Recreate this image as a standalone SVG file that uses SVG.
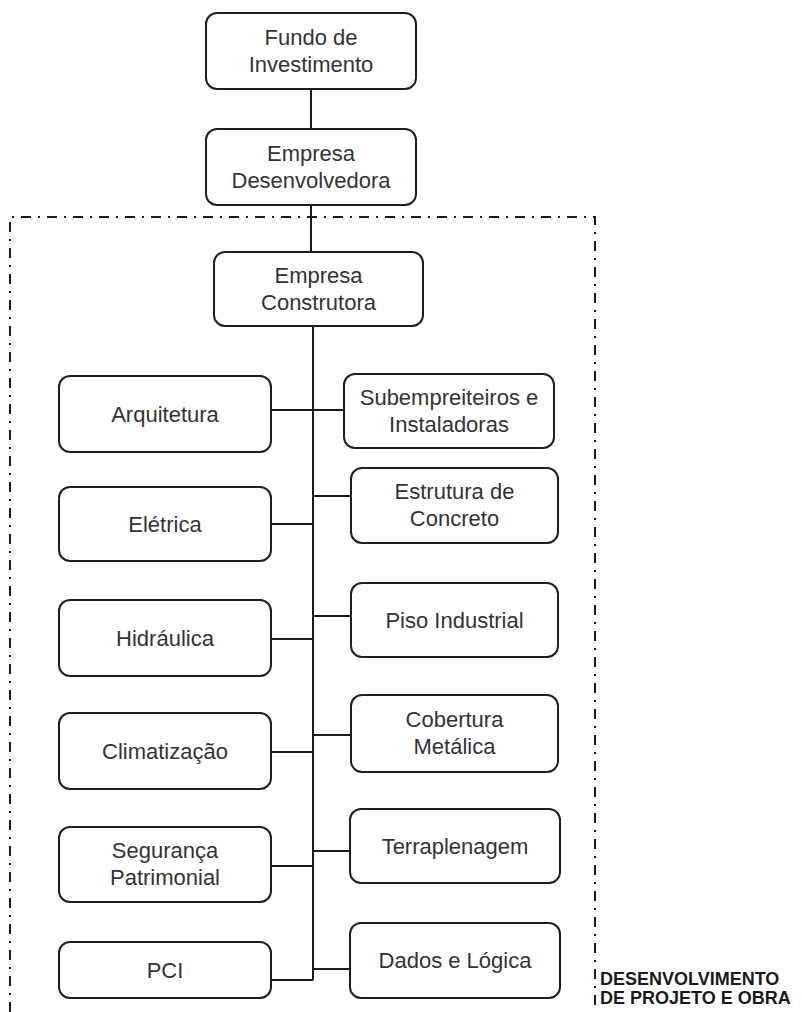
<svg xmlns="http://www.w3.org/2000/svg" width="802" height="1012" viewBox="0 0 802 1012">
  <style>
    .box { fill: #ffffff; stroke: #1f1f1f; stroke-width: 2; }
    .lbl { font-family: "Liberation Sans", Arial, sans-serif; font-size: 22px; fill: #333333; text-anchor: middle; }
    .wire { fill: none; stroke: #1a1a1a; stroke-width: 2; }
    .frame { fill: none; stroke: #1a1a1a; stroke-width: 2; stroke-dasharray: 10 7 2 7; }
    .tag { font-family: "Liberation Sans", Arial, sans-serif; font-size: 18px; font-weight: bold; fill: #1a1a1a; }
  </style>

  <!-- project / construction scope frame (open at the bottom) -->
  <g id="scope-frame">
    <path class="frame" d="M10,1012 V217 H595 V1012"/>
    <text class="tag" x="600" y="985">DESENVOLVIMENTO</text>
    <text class="tag" x="600" y="1004">DE PROJETO E OBRA</text>
  </g>

  <!-- connectors -->
  <g id="connectors">
    <path class="wire" d="M311,89 V129"/>
    <path class="wire" d="M311,205 V252"/>
    <path class="wire" d="M313,326 V980"/>
    <!-- left branch -->
    <path class="wire" d="M271,410 H313"/>
    <path class="wire" d="M271,524 H313"/>
    <path class="wire" d="M271,639 H313"/>
    <path class="wire" d="M271,752 H313"/>
    <path class="wire" d="M271,866 H313"/>
    <path class="wire" d="M271,980 H313"/>
    <!-- right branch -->
    <path class="wire" d="M313,410 H344"/>
    <path class="wire" d="M313,496 H351"/>
    <path class="wire" d="M313,616 H351"/>
    <path class="wire" d="M313,735 H351"/>
    <path class="wire" d="M313,851 H350"/>
    <path class="wire" d="M313,969 H350"/>
  </g>

  <g id="fundo-investimento">
    <rect class="box" x="206" y="13" width="210" height="76" rx="11"/>
    <text class="lbl" x="311" y="45">Fundo de</text>
    <text class="lbl" x="311" y="72">Investimento</text>
  </g>

  <g id="empresa-desenvolvedora">
    <rect class="box" x="206" y="129" width="210" height="76" rx="11"/>
    <text class="lbl" x="311" y="161">Empresa</text>
    <text class="lbl" x="311" y="188">Desenvolvedora</text>
  </g>

  <g id="empresa-construtora">
    <rect class="box" x="214" y="252" width="209" height="74" rx="11"/>
    <text class="lbl" x="318.5" y="283">Empresa</text>
    <text class="lbl" x="318.5" y="310">Construtora</text>
  </g>

  <g id="arquitetura">
    <rect class="box" x="59" y="376" width="212" height="76" rx="11"/>
    <text class="lbl" x="165" y="422">Arquitetura</text>
  </g>

  <g id="subempreiteiros">
    <rect class="box" x="344" y="374" width="210" height="74" rx="11"/>
    <text class="lbl" x="449" y="405">Subempreiteiros e</text>
    <text class="lbl" x="449" y="432">Instaladoras</text>
  </g>

  <g id="eletrica">
    <rect class="box" x="59" y="487" width="212" height="74" rx="11"/>
    <text class="lbl" x="165" y="532">Elétrica</text>
  </g>

  <g id="estrutura-concreto">
    <rect class="box" x="351" y="468" width="207" height="75" rx="11"/>
    <text class="lbl" x="454.5" y="499">Estrutura de</text>
    <text class="lbl" x="454.5" y="526">Concreto</text>
  </g>

  <g id="piso-industrial">
    <rect class="box" x="351" y="583" width="207" height="74" rx="11"/>
    <text class="lbl" x="454.5" y="628">Piso Industrial</text>
  </g>

  <g id="hidraulica">
    <rect class="box" x="59" y="600" width="212" height="76" rx="11"/>
    <text class="lbl" x="165" y="646">Hidráulica</text>
  </g>

  <g id="cobertura-metalica">
    <rect class="box" x="351" y="695" width="207" height="77" rx="11"/>
    <text class="lbl" x="454.5" y="727">Cobertura</text>
    <text class="lbl" x="454.5" y="754">Metálica</text>
  </g>

  <g id="climatizacao">
    <rect class="box" x="59" y="713" width="212" height="76" rx="11"/>
    <text class="lbl" x="165" y="759">Climatização</text>
  </g>

  <g id="terraplenagem">
    <rect class="box" x="350" y="809" width="210" height="74" rx="11"/>
    <text class="lbl" x="455" y="854">Terraplenagem</text>
  </g>

  <g id="seguranca-patrimonial">
    <rect class="box" x="59" y="827" width="212" height="75" rx="11"/>
    <text class="lbl" x="165" y="858">Segurança</text>
    <text class="lbl" x="165" y="885">Patrimonial</text>
  </g>

  <g id="dados-logica">
    <rect class="box" x="350" y="923" width="210" height="75" rx="11"/>
    <text class="lbl" x="455" y="968">Dados e Lógica</text>
  </g>

  <g id="pci">
    <rect class="box" x="59" y="942" width="212" height="56" rx="11"/>
    <text class="lbl" x="165" y="978">PCI</text>
  </g>
</svg>
